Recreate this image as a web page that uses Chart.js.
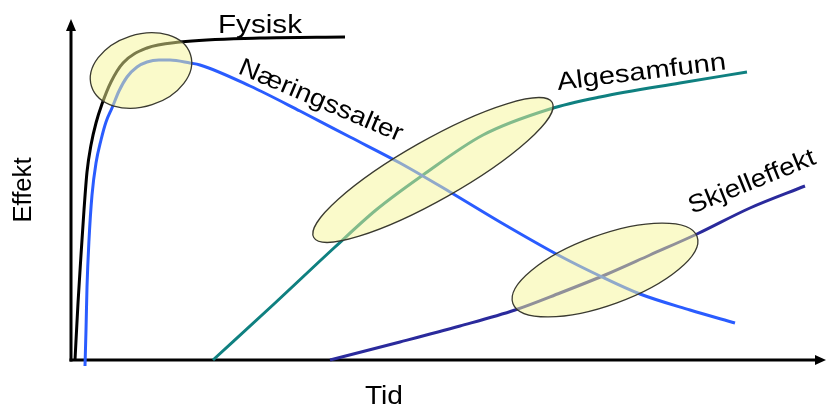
<!DOCTYPE html>
<html>
<head>
<meta charset="utf-8">
<script src="https://cdn.jsdelivr.net/npm/chart.js@4"></script>
<style>
  html, body { margin: 0; padding: 0; background: #ffffff; }
  #wrap { width: 828px; height: 408px; position: relative; }
</style>
</head>
<body>
<div id="wrap"><canvas id="c" width="828" height="408"></canvas></div>
<script>
// ---- data (x = time, y = effect, in arbitrary units) ----
const fysiskX = [4, 7, 10, 13, 16, 20, 25, 31, 40, 52, 76, 109, 189, 274];
const fysiskY = [0, 57, 105, 150, 188, 215, 237, 256, 278, 297, 312, 318, 322, 323];

const naeringX = [14, 15, 16, 18, 21, 25, 30, 35, 41, 48, 56, 66, 76, 88, 99, 119, 129, 179, 229, 279, 329, 379, 429, 489, 529, 569, 619, 664];
const naeringY = [-6, 30, 73, 120, 165, 197, 220, 238, 252, 269, 283, 293, 298, 300, 300, 297, 295, 274, 249, 223, 197, 168, 138, 104, 84, 66, 50, 37];

const algeX = [142, 203, 264, 305, 352, 412, 479, 529, 609, 676];
const algeY = [0, 56, 113, 150, 185, 225, 251, 263, 277, 288];

const skjellX = [259, 329, 389, 444, 489, 534, 579, 626, 679, 734];
const skjellY = [0, 18, 34, 50, 67, 85, 105, 126, 152, 174];

const seriesNames = ['Fysisk', 'Næringssalter', 'Algesamfunn', 'Skjelleffekt'];
const axisTitles = { x: 'Tid', y: 'Effekt' };

// ---- annotation geometry (data units) ----
const ellipses = [
  { cx: 70,  cy: 289.5, a: 52,  b: 36, angle: -18 },
  { cx: 362, cy: 190,   a: 137, b: 30, angle: -29.5 },
  { cx: 534, cy: 90,    a: 98,  b: 35, angle: -20 }
];
const labels = [
  { text: seriesNames[0], x: 147, y: 327, angle: 0,   width: 84,  align: 'left' },
  { text: seriesNames[1], x: 166, y: 287, angle: 23,  width: 176, align: 'left' },
  { text: seriesNames[2], x: 487, y: 270, angle: -7,  width: 170, align: 'left' },
  { text: seriesNames[3], x: 621, y: 146, angle: -22, width: 135, align: 'left' },
  { text: axisTitles.y,   x: -47, y: 170, angle: -90, width: 65,  align: 'center' },
  { text: axisTitles.x,   x: 313, y: -44, angle: 0,   width: 38,  align: 'center' }
];

const pts = (xs, ys) => xs.map((x, i) => ({ x: x, y: ys[i] }));

const overlay = {
  id: 'overlay',
  beforeDatasetsDraw(chart) {
    const ctx = chart.ctx;
    const xs = chart.scales.x, ys = chart.scales.y;
    const x0 = xs.getPixelForValue(0), y0 = ys.getPixelForValue(0);
    const area = chart.chartArea;
    ctx.save();
    ctx.strokeStyle = '#000'; ctx.fillStyle = '#000'; ctx.lineWidth = 3;
    // y axis
    ctx.beginPath(); ctx.moveTo(x0, y0 + 1.5); ctx.lineTo(x0, area.top + 10); ctx.stroke();
    ctx.beginPath(); ctx.moveTo(x0, area.top - 1); ctx.lineTo(x0 - 5, area.top + 11); ctx.lineTo(x0 + 5, area.top + 11); ctx.closePath(); ctx.fill();
    // x axis
    ctx.beginPath(); ctx.moveTo(x0 - 1.5, y0); ctx.lineTo(area.right - 12, y0); ctx.stroke();
    ctx.beginPath(); ctx.moveTo(area.right - 2, y0); ctx.lineTo(area.right - 13, y0 - 5); ctx.lineTo(area.right - 13, y0 + 5); ctx.closePath(); ctx.fill();
    ctx.restore();
  },
  afterDatasetsDraw(chart) {
    const ctx = chart.ctx;
    const xs = chart.scales.x, ys = chart.scales.y;
    const ux = Math.abs(xs.getPixelForValue(1) - xs.getPixelForValue(0));
    ctx.save();
    ellipses.forEach(e => {
      ctx.beginPath();
      ctx.ellipse(xs.getPixelForValue(e.cx), ys.getPixelForValue(e.cy), e.a * ux, e.b * ux, e.angle * Math.PI / 180, 0, Math.PI * 2);
      ctx.fillStyle = 'rgba(245,245,150,0.5)';
      ctx.fill();
      ctx.lineWidth = 1.3;
      ctx.strokeStyle = '#3a3a30';
      ctx.stroke();
    });
    ctx.fillStyle = '#000';
    ctx.font = '25px "Liberation Sans", Arial, sans-serif';
    ctx.textBaseline = 'alphabetic';
    labels.forEach(l => {
      const w = ctx.measureText(l.text).width;
      const s = l.width / w;
      ctx.save();
      ctx.translate(xs.getPixelForValue(l.x), ys.getPixelForValue(l.y));
      ctx.rotate(l.angle * Math.PI / 180);
      ctx.scale(s, 1);
      ctx.textAlign = l.align;
      if (l.angle === -90) { ctx.textBaseline = 'middle'; }
      ctx.fillText(l.text, 0, 0);
      ctx.restore();
    });
    ctx.restore();
  }
};

const common = { showLine: true, pointRadius: 0, borderWidth: 3, fill: false, cubicInterpolationMode: 'monotone', clip: false };

new Chart(document.getElementById('c'), {
  type: 'scatter',
  data: {
    datasets: [
      Object.assign({ label: seriesNames[0], data: pts(fysiskX, fysiskY), borderColor: '#000000' }, common),
      Object.assign({ label: seriesNames[1], data: pts(naeringX, naeringY), borderColor: '#2a5cff' }, common),
      Object.assign({ label: seriesNames[2], data: pts(algeX, algeY), borderColor: '#0f8080' }, common),
      Object.assign({ label: seriesNames[3], data: pts(skjellX, skjellY), borderColor: '#2a2a9c' }, common)
    ]
  },
  options: {
    responsive: false,
    animation: false,
    layout: { padding: { left: 71, right: 0, top: 20, bottom: 48 } },
    plugins: { legend: { display: false }, tooltip: { enabled: false } },
    scales: {
      x: { type: 'linear', min: 0, max: 757, display: false },
      y: { type: 'linear', min: 0, max: 340, display: false }
    }
  },
  plugins: [overlay]
});
</script>
</body>
</html>
